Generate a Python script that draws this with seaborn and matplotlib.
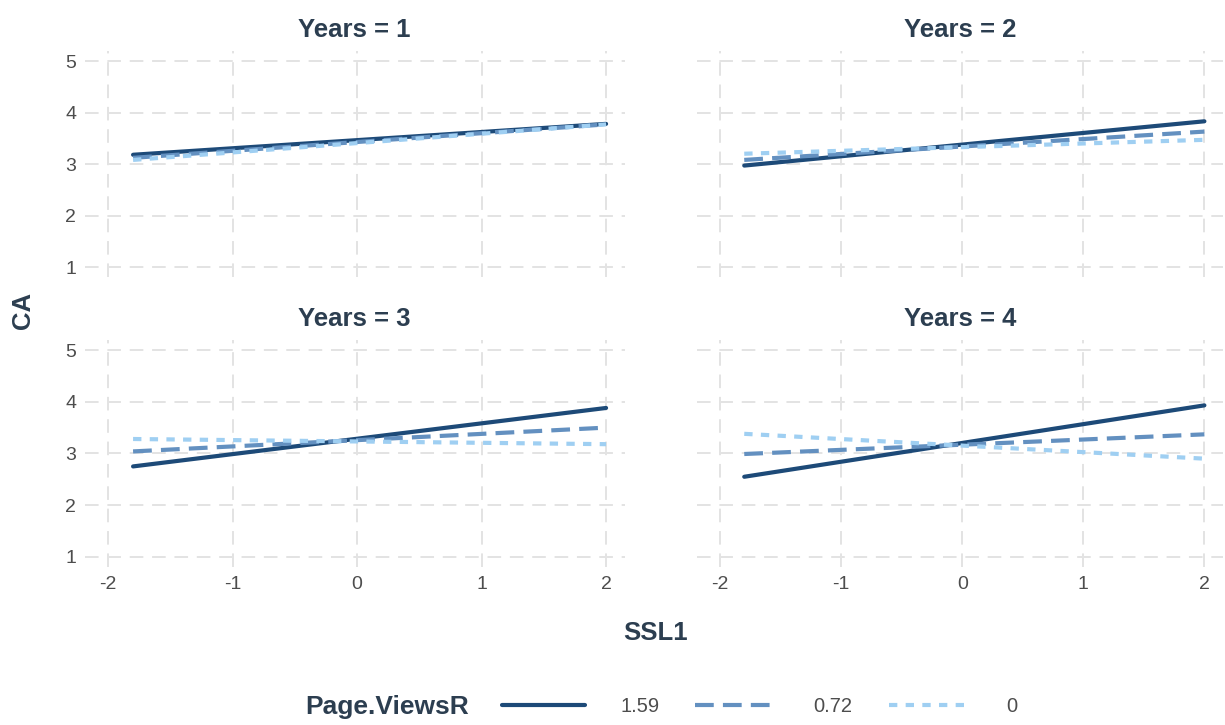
import numpy as np
import pandas as pd
import seaborn as sns
from matplotlib import pyplot as plt
from matplotlib.lines import Line2D

# Data (simple slopes, two end points per line)

years = [1, 2, 3, 4]
ssl1 = [-1.8, 2.0]
groups = ['1.59', '0.72', '0']

ca_high = [[3.18, 3.78], [2.97, 3.83], [2.75, 3.88], [2.55, 3.93]]   # 1.59
ca_mid = [[3.12, 3.77], [3.08, 3.63], [3.04, 3.50], [2.99, 3.37]]    # 0.72
ca_low = [[3.08, 3.77], [3.20, 3.47], [3.28, 3.18], [3.38, 2.90]]    # 0

rows = []
for i, yr in enumerate(years):
    for g, vals in zip(groups, [ca_high, ca_mid, ca_low]):
        for x, y in zip(ssl1, vals[i]):
            rows.append({'Years': yr, 'SSL1': x, 'CA': y, 'Page.ViewsR': g})
df = pd.DataFrame(rows)

# Styling

sns.set_theme(style='white')
plt.rcParams['font.family'] = ['Liberation Sans', 'DejaVu Sans']

colors = {'1.59': '#1d4a78', '0.72': '#6390c0', '0': '#9fcff2'}
dashes = {'1.59': '', '0.72': (4.5, 2.2), '0': (2.0, 2.0)}
text_col = '#2c3e50'
tick_col = '#4d4d4d'
grid_col = '#e3e3e3'

fig = plt.figure(figsize=(12.25, 7.25), dpi=100)

positions = [
    [0.069, 0.6175, 0.441, 0.3125],
    [0.569, 0.6175, 0.429, 0.3125],
    [0.069, 0.2175, 0.441, 0.3140],
    [0.569, 0.2175, 0.429, 0.3140],
]

for i, yr in enumerate(years):
    ax = fig.add_axes(positions[i])
    sub = df[df.Years == yr]
    sns.lineplot(data=sub, x='SSL1', y='CA', hue='Page.ViewsR', style='Page.ViewsR',
                 palette=colors, dashes=dashes, hue_order=groups, style_order=groups,
                 linewidth=3.0, legend=False, ax=ax, estimator=None)
    ax.set_xlim(-2.19, 2.15)
    ax.set_ylim(0.8, 5.2)
    ax.set_xticks([-2, -1, 0, 1, 2])
    ax.set_yticks([1, 2, 3, 4, 5])
    ax.grid(True, color=grid_col, linestyle=(0, (7, 4.5)), linewidth=1.4)
    ax.set_axisbelow(True)
    for s in ax.spines.values():
        s.set_visible(False)
    ax.tick_params(length=0, labelsize=14, labelcolor=tick_col, pad=6)
    ax.set_xlabel('')
    ax.set_ylabel('')
    ax.set_title('Years = ' + str(yr), fontsize=18.5, fontweight='bold', color=text_col, pad=10)
    if i < 2:
        ax.set_xticklabels([])
    else:
        ax.set_xticklabels(['-2', '-1', '0', '1', '2'])
    if i % 2 == 1:
        ax.set_yticklabels([])

fig.text(0.535, 0.127, 'SSL1', ha='center', va='center', fontsize=18.5,
         fontweight='bold', color=text_col)
fig.text(0.019, 0.572, 'CA', ha='center', va='center', rotation=90, fontsize=18.5,
         fontweight='bold', color=text_col)

# Legend at the bottom: title on the left, entries in one row

fig.text(0.249, 0.025, 'Page.ViewsR', ha='left', va='center', fontsize=19,
         fontweight='bold', color=text_col)
handles = [Line2D([], [], color=colors[g], linewidth=3.0,
                  linestyle='-' if dashes[g] == '' else (0, dashes[g])) for g in groups]
leg = fig.legend(handles, groups, loc='center left', bbox_to_anchor=(0.41, 0.025), ncol=3,
                 frameon=False, handlelength=4.1, columnspacing=1.8, handletextpad=1.75,
                 fontsize=14.5, borderaxespad=0, borderpad=0)
for t in leg.get_texts():
    t.set_color(tick_col)

plt.savefig('out.png', dpi=100)
